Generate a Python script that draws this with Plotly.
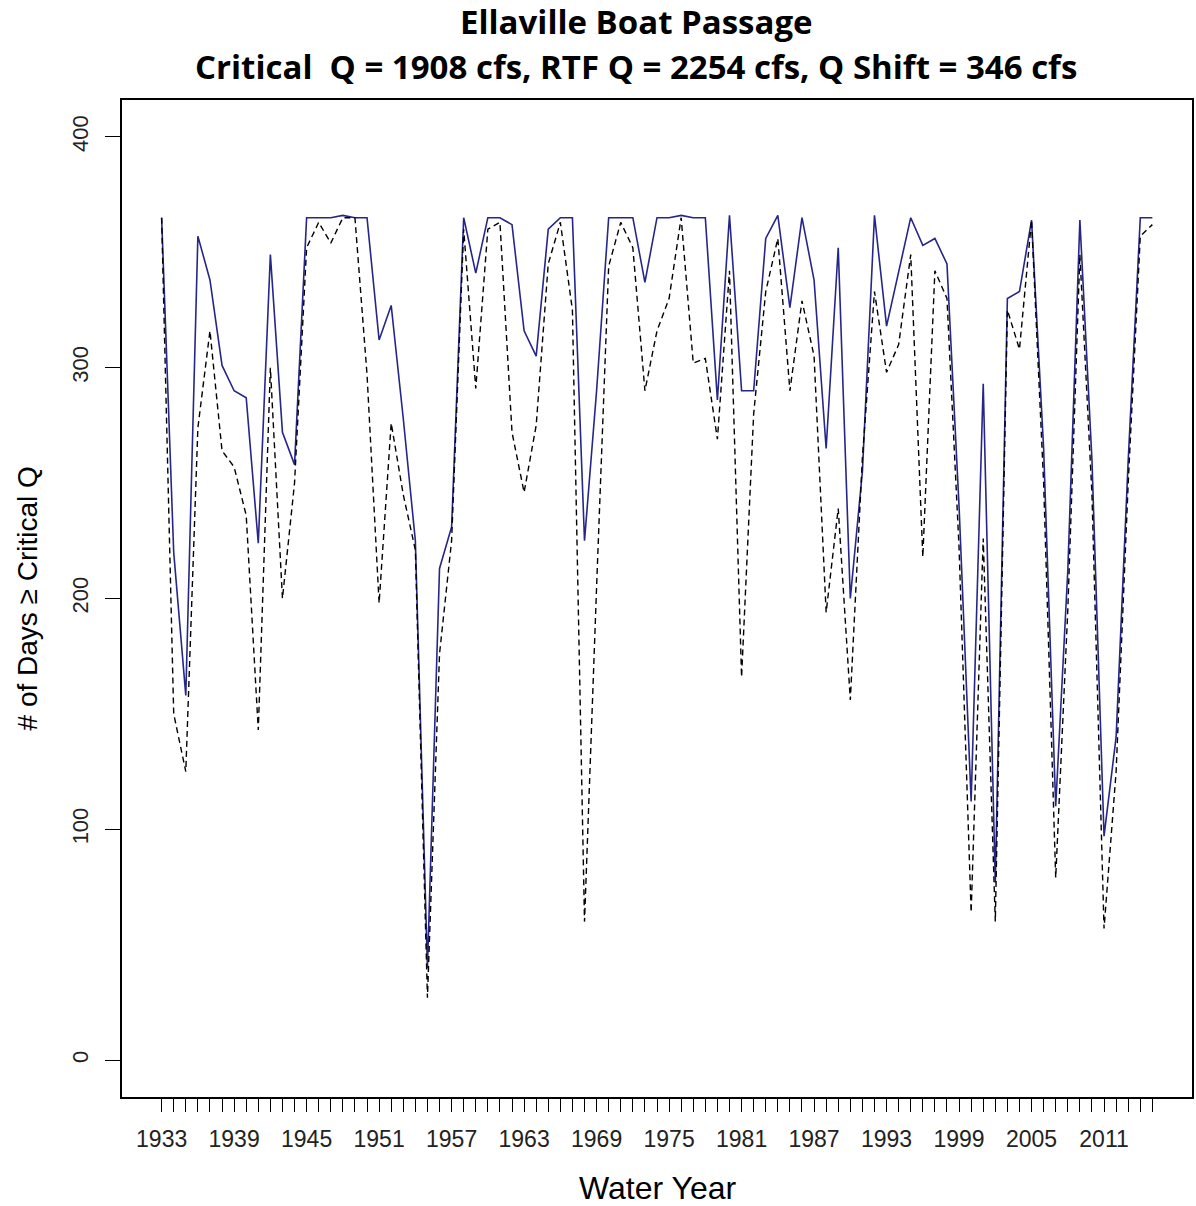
import plotly.graph_objects as go

years = list(range(1933, 2016))

base_days = [365, 220, 158, 357, 338, 301, 290, 287, 224, 349,
             272, 258, 365, 365, 365, 366, 365, 365, 312, 327,
             278, 225, 40, 213, 231, 365, 341, 365, 365, 362,
             316, 305, 360, 365, 365, 225, 290, 365, 365, 365,
             337, 365, 365, 366, 365, 365, 286, 366, 290, 290,
             356, 366, 326, 365, 338, 265, 352, 200, 255, 366,
             318, 341, 365, 353, 356, 345, 240, 112, 293, 77,
             330, 333, 364, 265, 110, 212, 364, 260, 97, 140,
             260, 365, 365]

rtf_days = [365, 150, 125, 274, 316, 264, 257, 236, 143, 300,
            200, 250, 352, 363, 354, 365, 365, 297, 198, 276,
            245, 221, 27, 176, 225, 360, 291, 360, 363, 272,
            246, 275, 345, 363, 325, 60, 205, 344, 363, 352,
            290, 316, 330, 365, 302, 304, 269, 342, 166, 280,
            333, 356, 290, 329, 305, 194, 239, 156, 261, 333,
            298, 310, 349, 218, 342, 330, 222, 64, 226, 60,
            325, 308, 364, 250, 79, 195, 349, 245, 57, 125,
            250, 357, 362]

y_ticks = [0, 100, 200, 300, 400]
x_tick_labels = [str(y) if (y - 1933) % 6 == 0 else "" for y in years]

title_line1 = "Ellaville Boat Passage"
title_line2 = "Critical  Q = 1908 cfs, RTF Q = 2254 cfs, Q Shift = 346 cfs"
x_title = "Water Year"
y_title = "# of Days ≥ Critical Q"

fig = go.Figure()
fig.add_trace(go.Scatter(x=years, y=base_days, mode="lines",
                         line=dict(color="#26268a", width=1.6),
                         showlegend=False))
fig.add_trace(go.Scatter(x=years, y=rtf_days, mode="lines",
                         line=dict(color="black", width=1.4, dash="6px,4px"),
                         showlegend=False))

title_font = dict(family="Open Sans", size=33, color="black", weight="bold")
fig.update_layout(
    width=1196, height=1206,
    margin=dict(l=122, r=4, t=100, b=109, autoexpand=False),
    paper_bgcolor="white", plot_bgcolor="white",
    font=dict(family="Liberation Sans", color="black"),
    annotations=[
        dict(text=title_line1, xref="paper", yref="paper", x=0.4804, y=1.0792,
             xanchor="center", yanchor="middle", showarrow=False, borderpad=0,
             font=title_font),
        dict(text=title_line2, xref="paper", yref="paper", x=0.4804, y=1.0331,
             xanchor="center", yanchor="middle", showarrow=False, borderpad=0,
             font=title_font),
        dict(text=x_title, xref="paper", yref="paper", x=0.5, y=-0.0913,
             xanchor="center", yanchor="middle", showarrow=False, borderpad=0,
             font=dict(family="Liberation Sans", size=32, color="black")),
        dict(text=y_title, xref="paper", yref="paper", x=-0.0879, y=0.5,
             xanchor="center", yanchor="middle", textangle=-90, showarrow=False,
             font=dict(family="Liberation Sans", size=28, color="black")),
    ],
)

fig.update_xaxes(
    range=[1929.72, 2018.28], automargin=False,
    tickmode="array", tickvals=years, ticktext=x_tick_labels,
    ticks="outside", ticklen=13, tickwidth=1.2, tickcolor="black",
    ticklabelstandoff=8,
    tickfont=dict(size=23, family="Liberation Sans", color="#222222"),
    showgrid=False, zeroline=False,
    showline=True, linecolor="black", linewidth=1.5, mirror=True,
)
fig.update_yaxes(
    range=[-16, 416], automargin=False,
    tickmode="array", tickvals=y_ticks, ticktext=[str(v) for v in y_ticks],
    tickangle=-90,
    ticks="outside", ticklen=15, tickwidth=1.2, tickcolor="black",
    ticklabelstandoff=8,
    tickfont=dict(size=22, family="Liberation Sans", color="#222222"),
    showgrid=False, zeroline=False,
    showline=True, linecolor="black", linewidth=1.5, mirror=True,
)

fig.write_html("out.html", config={"displayModeBar": False},
               post_script="document.body.style.margin='0';")
